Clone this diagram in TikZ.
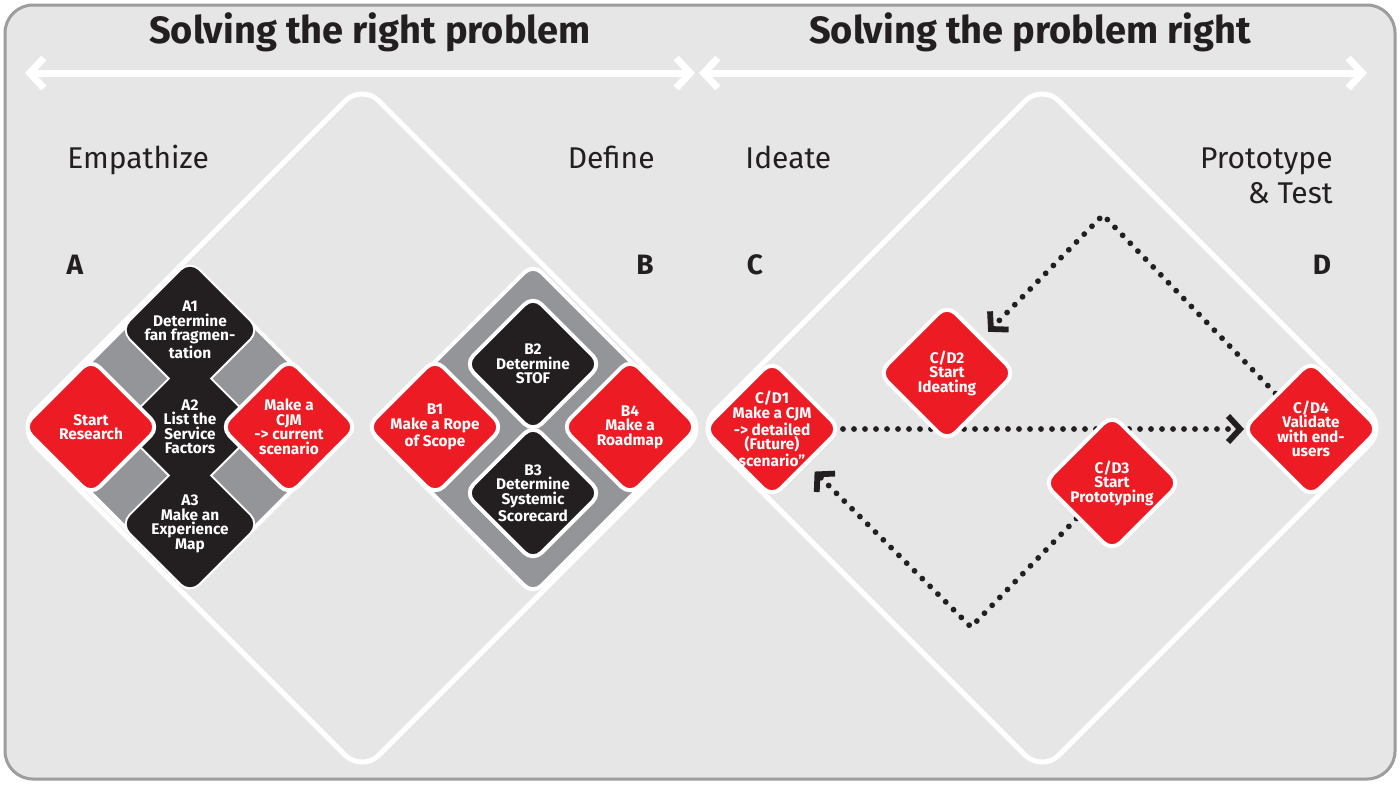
\documentclass[tikz,border=0pt]{standalone}
\usepackage{fontspec}
\setmainfont{Fira Sans}
\usepackage{xcolor}
\usepackage{tikz}
\usetikzlibrary{shapes.geometric}
\usetikzlibrary{arrows.meta}

\definecolor{boardgray}{HTML}{E6E6E6}
\definecolor{framegray}{HTML}{9D9D9D}
\definecolor{bandgray}{HTML}{939598}
\definecolor{stepred}{HTML}{ED1C24}
\definecolor{stepblack}{HTML}{231F20}

\pgfdeclarelayer{board}
\pgfdeclarelayer{links}
\pgfsetlayers{board,links,main}

\begin{document}
\begin{tikzpicture}[x=0.5pt, y=-0.5pt,
    stepbox/.style={diamond, aspect=1, minimum width=69pt, minimum height=69pt,
      inner sep=-4pt, rounded corners=6pt, draw=white, line width=2pt,
      text=white, align=center, font=\bfseries\fontsize{7.7}{7.25}\selectfont},
    redstep/.style={stepbox, fill=stepred},
    blackstep/.style={stepbox, fill=stepblack},
    grouppad/.style={diamond, aspect=1, minimum width=166pt, minimum height=166pt,
      inner sep=0pt, rounded corners=6pt, draw=white, line width=2pt, fill=bandgray},
    bigdia/.style={diamond, aspect=1, minimum width=345pt, minimum height=345pt,
      inner sep=0pt, rounded corners=12pt, draw=white, line width=2.5pt},
    headline/.style={font=\bfseries\fontsize{19}{19}\selectfont, text=stepblack, inner sep=0pt},
    phaselabel/.style={font=\fontsize{15}{17.5}\selectfont, text=stepblack, inner sep=0pt},
    letterlabel/.style={font=\bfseries\fontsize{14}{14}\selectfont, text=stepblack, inner sep=0pt},
    spanarrow/.style={{Straight Barb[length=7pt,width=15pt]}-{Straight Barb[length=7pt,width=15pt]},
      white, line width=3.5pt},
    dotarrow/.style={-{Straight Barb[length=6pt,width=13pt]}, stepblack, line width=2.9pt,
      line cap=round, dash pattern=on 0pt off 5.5pt},
  ]
  \useasboundingbox (0,0) rectangle (1400,784);

  \begin{pgfonlayer}{board}
  % board
  \draw[framegray, line width=1.5pt, fill=boardgray, rounded corners=14pt] (5,5) rectangle (1395,779);

  % the two big diamonds
  \node[bigdia] (rightproblem) at (362,428) {};
  \node[bigdia] (problemright) at (1042,428) {};
  \end{pgfonlayer}

  % headings and spans
  \node[headline] (hleft) at (370,32) {Solving the right problem};
  \node[headline] (hright) at (1030,32) {Solving the problem right};
  \coordinate (spanA) at (25,73);
  \coordinate (spanB) at (695,73);
  \coordinate (spanC) at (699,73);
  \coordinate (spanD) at (1367,73);
  \draw[spanarrow] (spanA) -- (spanB);
  \draw[spanarrow] (spanC) -- (spanD);

  \node[phaselabel, anchor=base west] (empathize) at (67,168) {Empathize};
  \node[phaselabel, anchor=base east] (define) at (655,168) {Define};
  \node[phaselabel, anchor=base west] (ideate) at (745,168) {Ideate};
  \node[phaselabel, anchor=north east, align=right] (prototype) at (1333,147) {Prototype\\\& Test};

  \node[letterlabel] (la) at (75,265) {A};
  \node[letterlabel] (lb) at (645,265) {B};
  \node[letterlabel] (lc) at (755,265) {C};
  \node[letterlabel] (ld) at (1322,265) {D};

  % group A
  \node[grouppad] (padA) at (190,427) {};
  \foreach \y in {330,427,524}
    \node[blackstep] at (190,\y) {};
  \node[blackstep, draw=none] (a1) at (190,330) {A1\\Determine\\fan fragmen-\\tation};
  \node[blackstep, draw=none] (a2) at (190,427) {A2\\List the\\Service\\Factors};
  \node[blackstep, draw=none] (a3) at (190,524) {A3\\Make an\\Experience\\Map};
  \node[redstep] (research) at (91,427) {Start\\Research};
  \node[redstep] (cjmnow) at (289,427) {Make a\\CJM\\-> current\\scenario};

  % group B
  \node[grouppad] (padB) at (533,429) {};
  \node[blackstep] (b2) at (533,364) {B2\\Determine\\STOF};
  \node[blackstep] (b3) at (533,493) {B3\\Determine\\Systemic\\Scorecard};
  \node[redstep] (b1) at (435,427) {B1\\Make a Rope\\of Scope};
  \node[redstep] (b4) at (630,427) {B4\\Make a\\Roadmap};

  % group C/D
  \coordinate (peak) at (1103,215);
  \coordinate (dip) at (971,627);
  \node[redstep] (cd1) at (772,429) {C/D1\\Make a CJM\\-> detailed\\(Future)\\scenario”};
  \node[redstep] (cd2) at (947,373) {C/D2\\Start\\Ideating};
  \node[redstep] (cd3) at (1112,483) {C/D3\\Start\\Prototyping};
  \node[redstep] (cd4) at (1311,429) {C/D4\\Validate\\with end-\\users};

  \begin{pgfonlayer}{links}
  \draw[dotarrow, shorten >=-2pt] (cd1.east) -- (cd4.west);
  \draw[dotarrow, shorten >=4pt] (cd4.north west) -- (peak) -- (cd2.north east);
  \draw[dotarrow, shorten >=5pt] (cd3.south west) -- (dip) -- (cd1.south east);
  \end{pgfonlayer}
\end{tikzpicture}
\end{document}
